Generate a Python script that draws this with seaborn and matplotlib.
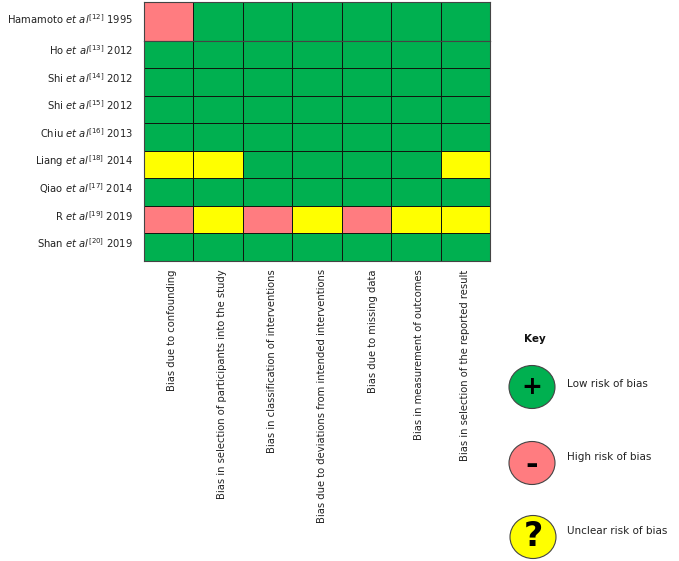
import numpy as np
import pandas as pd
import matplotlib
matplotlib.use('Agg')
import matplotlib.pyplot as plt
import seaborn as sns
from matplotlib.colors import ListedColormap
from matplotlib.patches import Ellipse

# rating codes: 0 low, 1 high, 2 unclear
studies = [r'Hamamoto $\mathit{et\ al}^{[12]}$ 1995', r'Ho $\mathit{et\ al}^{[13]}$ 2012',
           r'Shi $\mathit{et\ al}^{[14]}$ 2012', r'Shi $\mathit{et\ al}^{[15]}$ 2012',
           r'Chiu $\mathit{et\ al}^{[16]}$ 2013', r'Liang $\mathit{et\ al}^{[18]}$ 2014',
           r'Qiao $\mathit{et\ al}^{[17]}$ 2014', r'R $\mathit{et\ al}^{[19]}$ 2019',
           r'Shan $\mathit{et\ al}^{[20]}$ 2019']
domains = ['Bias due to confounding', 'Bias in selection of participants into the study',
           'Bias in classification of interventions', 'Bias due to deviations from intended interventions',
           'Bias due to missing data', 'Bias in measurement of outcomes',
           'Bias in selection of the reported result']
hamamoto = [1, 0, 0, 0, 0, 0, 0]
ho = [0, 0, 0, 0, 0, 0, 0]
shi_a = [0, 0, 0, 0, 0, 0, 0]
shi_b = [0, 0, 0, 0, 0, 0, 0]
chiu = [0, 0, 0, 0, 0, 0, 0]
liang = [2, 2, 0, 0, 0, 0, 2]
qiao = [0, 0, 0, 0, 0, 0, 0]
r_study = [1, 2, 1, 2, 1, 2, 2]
shan = [0, 0, 0, 0, 0, 0, 0]
key_labels = ['Low risk of bias', 'High risk of bias', 'Unclear risk of bias']
key_symbols = ['+', '-', '?']

colors = ['#00B050', '#FF7C80', '#FFFF00']
font_size = 7.5
axis_font_size = 7.2

plt.rcParams['font.family'] = ['DejaVu Sans']
plt.rcParams['mathtext.fontset'] = 'custom'
plt.rcParams['mathtext.rm'] = 'DejaVu Sans'
plt.rcParams['mathtext.it'] = 'DejaVu Sans:italic'

W, H = 679, 561
fig = plt.figure(figsize=(W / 100, H / 100), dpi=100)
cmap = ListedColormap(colors)


def px_axes(x0, y0, x1, y1):
    return fig.add_axes([x0 / W, 1 - y1 / H, (x1 - x0) / W, (y1 - y0) / H])


# first row is taller in the original, so it gets its own axes
top_df = pd.DataFrame([hamamoto], index=studies[:1], columns=domains)
rest_df = pd.DataFrame([ho, shi_a, shi_b, chiu, liang, qiao, r_study, shan], index=studies[1:], columns=domains)

ax1 = px_axes(144, 2, 490, 40.5)
ax2 = px_axes(144, 40.5, 490, 261)
for ax, df in [(ax1, top_df), (ax2, rest_df)]:
    sns.heatmap(df, ax=ax, cmap=cmap, vmin=0, vmax=2, cbar=False, linewidths=0.7, linecolor='#101810')
    ax.tick_params(length=0)
    ax.set_yticks(np.arange(len(df)) + 0.36 + (0.08 if ax is ax1 else 0))
    ax.set_yticklabels(df.index, rotation=0, fontsize=axis_font_size, color='#222222', ha='right')
    ax.tick_params(axis='y', pad=8)
    ax.set_xlabel('')
    ax.set_ylabel('')
    for s in ax.spines.values():
        s.set_visible(True)
        s.set_color('#444444')
        s.set_linewidth(0.8)
ax1.set_xticks([])
# labels do not sit exactly at the column centres in the original
label_shift = [0.07, 0.07, 0.09, 0.11, 0.13, 0.06, 0.0]
ax2.set_xticks(np.arange(len(domains)) + 0.5 + np.array(label_shift))
ax2.set_xticklabels(domains, rotation=90, fontsize=axis_font_size, color='#222222', va='top', ha='center')
ax2.tick_params(axis='x', pad=6)

# key, drawn in pixel coordinates
key = fig.add_axes([0, 0, 1, 1], facecolor='none')
key.set_xlim(0, W)
key.set_ylim(H, 0)
key.axis('off')
key.text(535, 339, 'Key', fontsize=font_size, fontweight='bold', ha='center', va='center', color='#111111')
centers_x = [532, 532, 533]
centers_y = [387, 463, 537]
text_y = [384, 457, 531]
symbol_size = [18, 22, 24]
symbol_dy = [0, 2, 0]
for i in range(3):
    key.add_patch(Ellipse((centers_x[i], centers_y[i]), 46, 43, facecolor=colors[i], edgecolor='#444444', linewidth=0.8))
    key.text(centers_x[i], centers_y[i] + symbol_dy[i], key_symbols[i], fontsize=symbol_size[i], fontweight='bold',
             ha='center', va='center', color='black')
    key.text(567, text_y[i], key_labels[i], fontsize=font_size, ha='left', va='center', color='#222222')

fig.savefig('out.png', dpi=100)
